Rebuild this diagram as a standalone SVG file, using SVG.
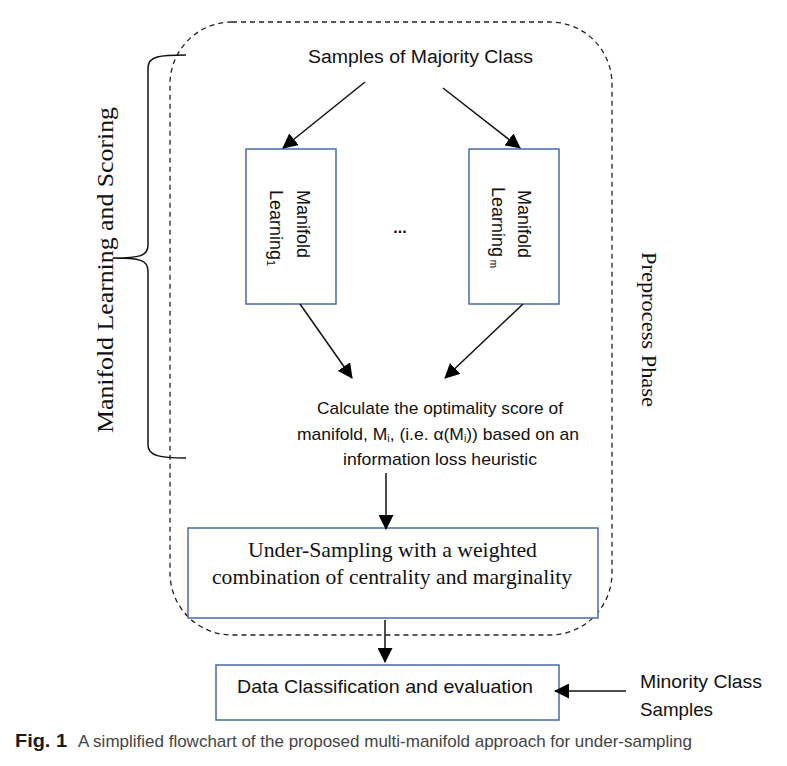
<svg xmlns="http://www.w3.org/2000/svg" width="787" height="766" viewBox="0 0 787 766">
<style>
.box{fill:#fff;stroke:#4a6aa5;stroke-width:1.5}
.ln{stroke:#111;stroke-width:1.5;fill:none}
.cal{font-family:"Liberation Sans","Open Sans",sans-serif;fill:#111}
.ser{font-family:"Liberation Serif","DejaVu Serif",serif;fill:#111}
</style>
<defs>
<marker id="ah" viewBox="0 0 15 15" refX="14" refY="7.5" markerWidth="15" markerHeight="15" markerUnits="userSpaceOnUse" orient="auto">
<path d="M0,0 L15,7.5 L0,15 Z" fill="#000"/>
</marker>
</defs>
<rect width="787" height="766" fill="#fff"/>

<g id="preprocess-phase">
<rect x="170" y="22" width="442" height="613" rx="62" ry="62" fill="none" stroke="#222" stroke-width="1.3" stroke-dasharray="5,4"/>
<text class="ser" font-size="22" transform="translate(642,252) rotate(90)" textLength="155" lengthAdjust="spacingAndGlyphs">Preprocess Phase</text>
</g>

<g id="brace">
<path class="ln" stroke-width="1.3" d="M186,55 C160,55 148,56 148,68 L148,245 C148,256 140,258 113,258 C140,258 148,260 148,271 L148,445 C148,456 160,458 186,458"/>
<text class="ser" font-size="23" transform="translate(113,433) rotate(-90)" textLength="326" lengthAdjust="spacingAndGlyphs">Manifold Learning and Scoring</text>
</g>

<g id="majority">
<text class="cal" font-size="18" x="308" y="63" textLength="225" lengthAdjust="spacingAndGlyphs">Samples of Majority Class</text>
</g>

<g id="manifold-1">
<rect class="box" x="246" y="149" width="90" height="155"/>
<text class="cal" font-size="18" transform="translate(297,190) rotate(90)">Manifold</text>
<text class="cal" font-size="18" transform="translate(270,190) rotate(90)">Learning<tspan font-size="11" dy="3">1</tspan></text>
</g>

<g id="ellipsis">
<text class="cal" font-size="16" font-weight="bold" x="400" y="233" text-anchor="middle">...</text>
</g>

<g id="manifold-m">
<rect class="box" x="469" y="149" width="90" height="155"/>
<text class="cal" font-size="18" transform="translate(518,190) rotate(90)">Manifold</text>
<text class="cal" font-size="18" transform="translate(492,187) rotate(90)">Learning<tspan font-size="10" dy="2"> m</tspan></text>
</g>

<g id="score">
<text class="cal" font-size="17" x="317" y="414" textLength="246" lengthAdjust="spacingAndGlyphs">Calculate the optimality score of</text>
<text class="cal" font-size="17" x="297" y="440" textLength="282" lengthAdjust="spacingAndGlyphs">manifold, M<tspan font-size="10" dy="2">i</tspan><tspan dy="-2">, (i.e. α(M</tspan><tspan font-size="10" dy="2">i</tspan><tspan dy="-2">)) based on an</tspan></text>
<text class="cal" font-size="17" x="343" y="465" textLength="194" lengthAdjust="spacingAndGlyphs">information loss heuristic</text>
</g>

<g id="under-sampling">
<rect class="box" x="188" y="528" width="410" height="90"/>
<text class="ser" font-size="21" x="248" y="557" textLength="289" lengthAdjust="spacingAndGlyphs">Under-Sampling with a weighted</text>
<text class="ser" font-size="21" x="212" y="584" textLength="360" lengthAdjust="spacingAndGlyphs">combination of centrality and marginality</text>
</g>

<g id="classification">
<rect class="box" x="216" y="665" width="343" height="55"/>
<text class="cal" font-size="19" x="237" y="693" textLength="296" lengthAdjust="spacingAndGlyphs">Data Classification and evaluation</text>
</g>

<g id="minority">
<text class="cal" font-size="19" x="640" y="688" textLength="122" lengthAdjust="spacingAndGlyphs">Minority Class</text>
<text class="cal" font-size="19" x="640" y="716" textLength="73" lengthAdjust="spacingAndGlyphs">Samples</text>
</g>

<g id="connectors">
<line class="ln" x1="365" y1="82" x2="283" y2="148" marker-end="url(#ah)"/>
<line class="ln" x1="443" y1="88" x2="520" y2="148" marker-end="url(#ah)"/>
<line class="ln" x1="300" y1="304" x2="352" y2="378" marker-end="url(#ah)"/>
<line class="ln" x1="523" y1="304" x2="445" y2="378" marker-end="url(#ah)"/>
<line class="ln" x1="386" y1="473" x2="386" y2="529" marker-end="url(#ah)"/>
<line class="ln" x1="385" y1="620" x2="385" y2="662" marker-end="url(#ah)"/>
<line class="ln" x1="626" y1="691" x2="555" y2="691" marker-end="url(#ah)"/>
</g>

<g id="caption">
<text font-family="Liberation Sans, Open Sans, sans-serif" font-size="18" font-weight="bold" fill="#1a1a1a" x="15" y="747" textLength="52" lengthAdjust="spacingAndGlyphs">Fig. 1</text>
<text font-family="Liberation Sans, Open Sans, sans-serif" font-size="17" fill="#444" x="78" y="747" textLength="614" lengthAdjust="spacingAndGlyphs">A simplified flowchart of the proposed multi-manifold approach for under-sampling</text>
</g>
</svg>
